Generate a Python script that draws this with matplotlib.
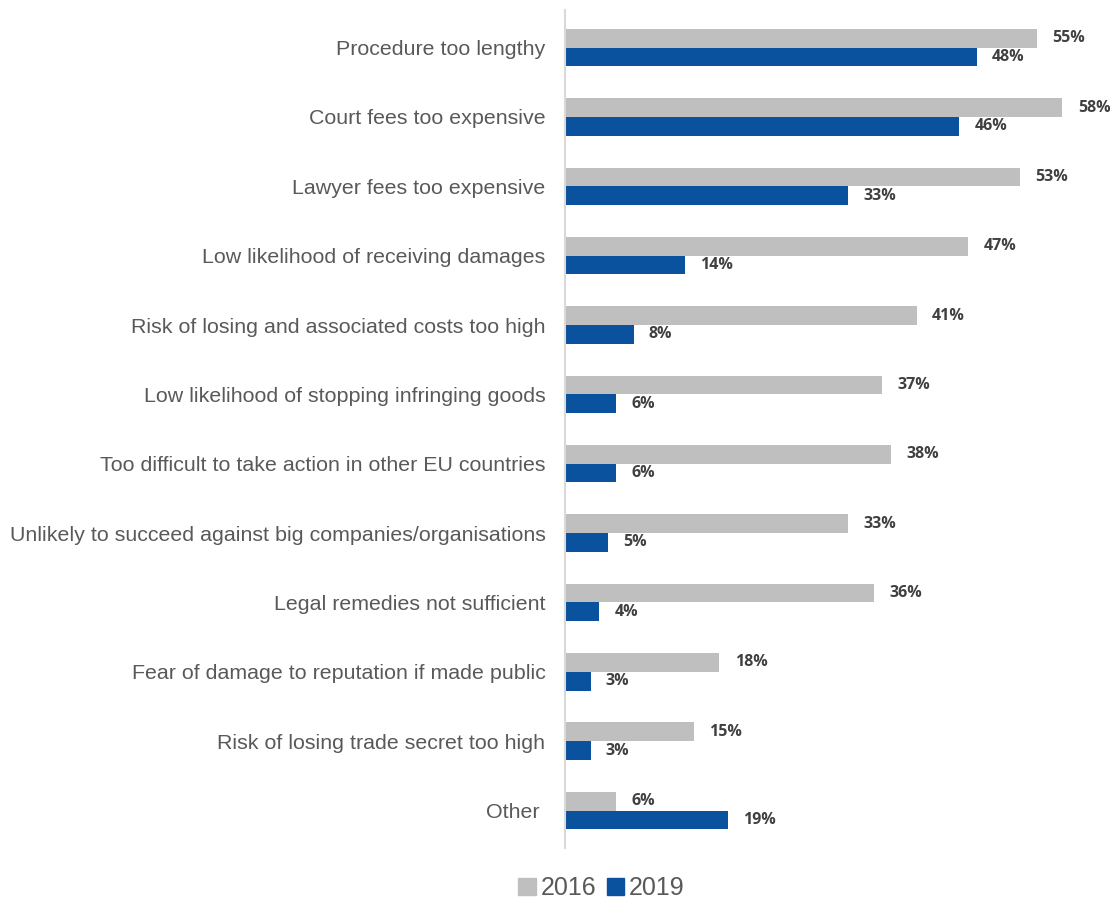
import numpy as np
import matplotlib
matplotlib.use("Agg")
import matplotlib.pyplot as plt
from matplotlib.patches import Patch

categories = [
    "Procedure too lengthy",
    "Court fees too expensive",
    "Lawyer fees too expensive",
    "Low likelihood of receiving damages",
    "Risk of losing and associated costs too high",
    "Low likelihood of stopping infringing goods",
    "Too difficult to take action in other EU countries",
    "Unlikely to succeed against big companies/organisations",
    "Legal remedies not sufficient",
    "Fear of damage to reputation if made public",
    "Risk of losing trade secret too high",
    "Other ",
]
values_2016 = [55, 58, 53, 47, 41, 37, 38, 33, 36, 18, 15, 6]
values_2019 = [48, 46, 33, 14, 8, 6, 6, 5, 4, 3, 3, 19]

gray = "#BFBFBF"
blue = "#0A519E"
text_gray = "#595959"
label_dark = "#404040"

fig = plt.figure(figsize=(11.12, 9.01), dpi=100)
ax = fig.add_axes([0.508, 0.0588, 0.486, 0.930])

y = np.arange(len(categories))
h = 0.27
ax.barh(y - h / 2, values_2016, height=h, color=gray)
ax.barh(y + h / 2, values_2019, height=h, color=blue)

# Datenbeschriftungen
for yi, v in zip(y, values_2016):
    ax.annotate(f"{v}%", (v, yi - h / 2), xytext=(11, 0), textcoords="offset points",
                ha="left", va="center", fontsize=11.5, fontweight="bold",
                color=label_dark, family="Open Sans")
for yi, v in zip(y, values_2019):
    ax.annotate(f"{v}%", (v, yi + h / 2), xytext=(11, 0), textcoords="offset points",
                ha="left", va="center", fontsize=11.5, fontweight="bold",
                color=label_dark, family="Open Sans")

ax.set_xlim(0, 63)
ax.set_ylim(len(categories) - 0.46, -0.54)
ax.set_yticks(y)
ax.set_yticklabels(categories, fontsize=15.4, color=text_gray, family="Liberation Sans")
ax.tick_params(axis="y", length=0, pad=14)
ax.set_xticks([])
for s in ["top", "right", "bottom"]:
    ax.spines[s].set_visible(False)
ax.spines["left"].set_color("#D9D9D9")
ax.spines["left"].set_linewidth(1.5)

handles = [Patch(color=gray, label="2016"), Patch(color=blue, label="2019")]
fig.legend(handles=handles, loc="center", bbox_to_anchor=(0.541, 0.014), ncol=2,
           frameon=False, handlelength=0.7, handleheight=0.7, handletextpad=0.2,
           columnspacing=0.4, prop={"family": "Liberation Sans", "size": 18},
           labelcolor=text_gray)

fig.savefig("out.png", dpi=100)
